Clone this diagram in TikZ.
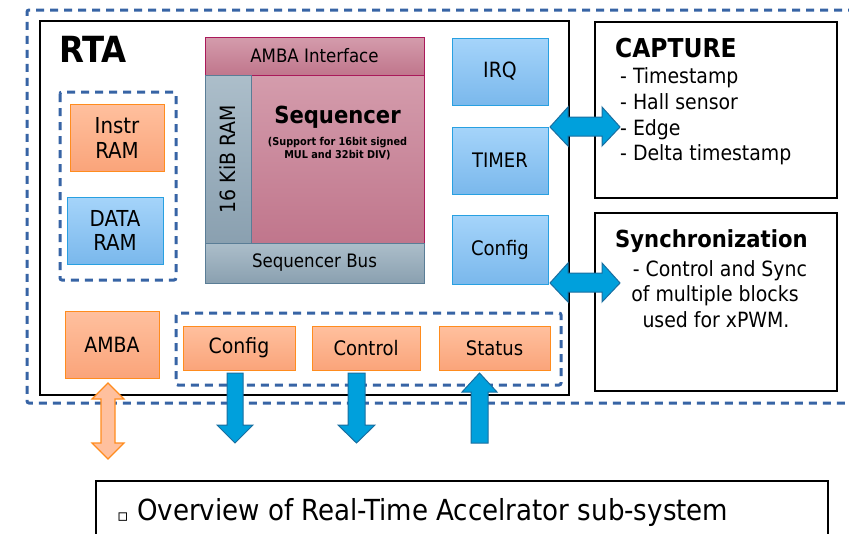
\documentclass[tikz,border=0pt]{standalone}
\usepackage{fontspec}
\setmainfont{DejaVu Sans Condensed}
\newfontfamily\symfont{DejaVu Sans}
\definecolor{dashblue}{RGB}{55,100,165}
\definecolor{bluetop}{RGB}{165,212,250}
\definecolor{bluebot}{RGB}{122,184,236}
\definecolor{bluebd}{RGB}{40,160,225}
\definecolor{ortop}{RGB}{255,192,158}
\definecolor{orbot}{RGB}{250,164,122}
\definecolor{orbd}{RGB}{255,140,30}
\definecolor{pinktop}{RGB}{212,156,172}
\definecolor{pinkbot}{RGB}{192,118,140}
\definecolor{pinkbd}{RGB}{170,25,90}
\definecolor{graytop}{RGB}{172,190,202}
\definecolor{graybot}{RGB}{138,160,176}
\definecolor{graybd}{RGB}{90,125,150}
\definecolor{arrfill}{RGB}{0,160,220}
\definecolor{arrbd}{RGB}{25,110,160}
\begin{document}
\begin{tikzpicture}[x=1pt,y=-1pt,
  box/.style={draw, line width=1pt, inner sep=0pt, outer sep=0pt, align=center,
    font=\fontsize{20}{24.5}\selectfont},
  bluebox/.style={box, draw=bluebd, top color=bluetop, bottom color=bluebot},
  orbox/.style={box, draw=orbd, top color=ortop, bottom color=orbot},
  pinkbox/.style={box, draw=pinkbd, top color=pinktop, bottom color=pinkbot},
  graybox/.style={box, draw=graybd, top color=graytop, bottom color=graybot},
  dashbox/.style={draw=dashblue, line width=3pt, dash pattern=on 8pt off 6pt, rounded corners=2pt},
  framebox/.style={draw=black, line width=2.5pt, inner sep=0pt, outer sep=0pt},
  txt/.style={inner sep=0pt, font=\fontsize{21}{25.5}\selectfont},
  bluearrow/.style={fill=arrfill, draw=arrbd, line width=1pt, line join=miter},
  orarrow/.style={fill=ortop, draw=orbd, line width=1.2pt, line join=miter}
]
\useasboundingbox (0,0) rectangle (849,533);

% outer dashed region (open to the right)
\draw[dashbox] (870,10) -- (27,10) -- (27,403) -- (870,403);

% RTA frame
\node[framebox, minimum width=529, minimum height=374, anchor=north west] (rta) at (40,21) {};
\node[txt, anchor=base west, font=\fontsize{36}{40}\selectfont\bfseries] (rtalabel) at (59,62) {RTA};

% sequencer block
\node[pinkbox, minimum width=219, minimum height=38, font=\fontsize{18.5}{21}\selectfont] (ambaif) at (314.5,56) {AMBA Interface};
\node[pinkbox, minimum width=173, minimum height=168] (seq) at (337.5,159) {};
\node[graybox, rotate=90, minimum width=168, minimum height=46, font=\fontsize{21}{24}\selectfont] (ram16) at (228,159) {16 KiB RAM};
\node[graybox, minimum width=219, minimum height=40, font=\fontsize{18.5}{21}\selectfont] (seqbus) at (314.5,263) {Sequencer Bus};
\node[txt, anchor=base, font=\fontsize{23.5}{26}\selectfont\bfseries] (seqtitle) at (337.5,123) {Sequencer};
\node[txt, anchor=base, font=\fontsize{10.8}{13}\selectfont\bfseries] (seqsub1) at (337.5,145) {(Support for 16bit signed};
\node[txt, anchor=base, font=\fontsize{10.8}{13}\selectfont\bfseries] (seqsub2) at (337.5,158) {MUL and 32bit DIV)};

% right column
\node[bluebox, minimum width=96, minimum height=67, font=\fontsize{21}{24}\selectfont] (irq) at (500,71.5) {IRQ};
\node[bluebox, minimum width=96, minimum height=67] (timer) at (500,160.5) {TIMER};
\node[bluebox, minimum width=96, minimum height=69] (cfgr) at (500,249.5) {Config};

% RAM group
\draw[dashbox] (60,92) rectangle (176,280);
\node[orbox, minimum width=94, minimum height=67, font=\fontsize{22}{25}\selectfont] (instr) at (117,137.5) {Instr\\RAM};
\node[bluebox, minimum width=96, minimum height=67, font=\fontsize{22}{24.5}\selectfont] (data) at (115,230.5) {DATA\\RAM};

% bottom row
\node[orbox, minimum width=94, minimum height=67, font=\fontsize{21}{24}\selectfont] (amba) at (112,344.5) {AMBA};
\draw[dashbox] (176,313) rectangle (561,385);
\node[orbox, minimum width=112, minimum height=44, font=\fontsize{21}{24}\selectfont] (cfgb) at (239,348) {Config};
\node[orbox, minimum width=108, minimum height=44] (ctrl) at (366,348) {Control};
\node[orbox, minimum width=111, minimum height=44] (stat) at (494.5,348) {Status};

% CAPTURE box
\node[framebox, minimum width=242, minimum height=176, anchor=north west] (capture) at (595,22) {};
\node[txt, anchor=base west, font=\fontsize{26}{30}\selectfont\bfseries] (captitle) at (615,57) {CAPTURE};
\node[txt, anchor=base west] (cap1) at (620,83) {- Timestamp};
\node[txt, anchor=base west] (cap2) at (620,109) {- Hall sensor};
\node[txt, anchor=base west] (cap3) at (620,135) {- Edge};
\node[txt, anchor=base west] (cap4) at (620,160) {- Delta timestamp};

% Synchronization box
\node[framebox, minimum width=242, minimum height=178, anchor=north west] (sync) at (595,213) {};
\node[txt, anchor=base west, font=\fontsize{23.5}{28}\selectfont\bfseries] (synctitle) at (615,247) {Synchronization};
\node[txt, anchor=base] (sync1) at (720,276) {- Control and Sync};
\node[txt, anchor=base] (sync2) at (715,301) {of multiple blocks};
\node[txt, anchor=base] (sync3) at (716,327) {used for xPWM.};

% double arrows to CAPTURE / Synchronization
\draw[bluearrow] (550,127) -- (568,107) -- (568,117) -- (602,117) -- (602,107) -- (620,127)
  -- (602,146) -- (602,136) -- (568,136) -- (568,146) -- cycle;
\draw[bluearrow] (550,283) -- (568,263) -- (568,273) -- (602,273) -- (602,263) -- (620,283)
  -- (602,302) -- (602,292) -- (568,292) -- (568,302) -- cycle;

% AMBA bidirectional arrow
\draw[orarrow] (108,383) -- (124,399) -- (115,399) -- (115,443) -- (124,443) -- (108,459)
  -- (92,443) -- (101,443) -- (101,399) -- (92,399) -- cycle;

% Config / Control down arrows, Status up arrow
\draw[bluearrow] (227,373) -- (243,373) -- (243,425) -- (253,425) -- (235,443) -- (217,425) -- (227,425) -- cycle;
\draw[bluearrow] (348,373) -- (365,373) -- (365,425) -- (375,425) -- (356.5,443) -- (338,425) -- (348,425) -- cycle;
\draw[bluearrow] (471,443) -- (488,443) -- (488,392) -- (497,392) -- (479.5,373) -- (462,392) -- (471,392) -- cycle;

% caption box
\draw[line width=1.5pt] (96,545) -- (96,481) -- (828,481) -- (828,545);
\node[txt, anchor=base, font=\fontsize{17}{19}\symfont] (bullet) at (123,521) {\symbol{"25AB}};
\node[txt, anchor=base west, font=\fontsize{29}{33}\selectfont] (caption) at (137,520) {Overview of Real-Time Accelrator sub-system};
\end{tikzpicture}
\end{document}
